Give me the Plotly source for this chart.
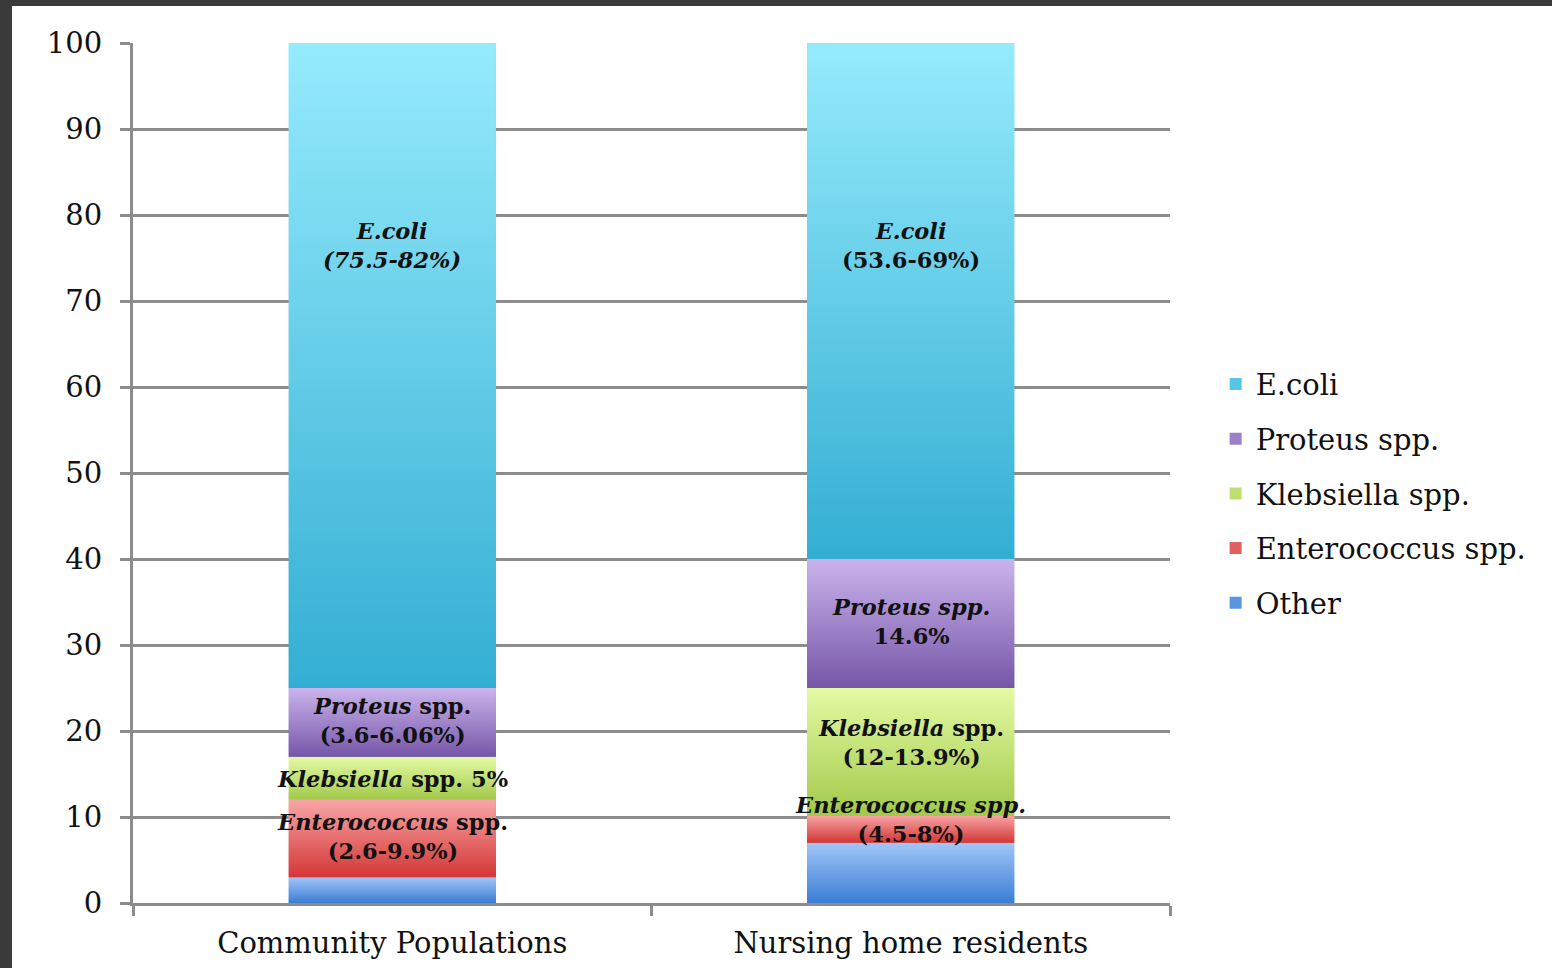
import plotly.graph_objects as go

# ---- data ----
categories = ["Community Populations", "Nursing home residents"]
series = ["Other", "Enterococcus spp.", "Klebsiella spp.", "Proteus spp.", "E.coli"]
values = {
    "Other": [3, 7],
    "Enterococcus spp.": [9, 3.2],
    "Klebsiella spp.": [5, 14.8],
    "Proteus spp.": [8, 15],
    "E.coli": [75, 60],
}
labels = {
    "Other": [None, None],
    "Enterococcus spp.": ["<b><i>Enterococcus</i> spp.</b><br><b>(2.6-9.9%)</b>",
                          "<b><i>Enterococcus spp.</i></b><br><b>(4.5-8%)</b>"],
    "Klebsiella spp.": ["<b><i>Klebsiella</i> spp. 5%</b>",
                        "<b><i>Klebsiella</i> spp.</b><br><b>(12-13.9%)</b>"],
    "Proteus spp.": ["<b><i>Proteus</i> spp.</b><br><b>(3.6-6.06%)</b>",
                     "<b><i>Proteus spp.</i></b><br><b>14.6%</b>"],
    "E.coli": ["<b><i>E.coli</i></b><br><b><i>(75.5-82%)</i></b>",
               "<b><i>E.coli</i></b><br><b>(53.6-69%)</b>"],
}
# label vertical placement (data units)
label_y = {
    "Enterococcus spp.": [7.7, 9.7],
    "Klebsiella spp.": [14.4, 18.7],
    "Proteus spp.": [21.2, 32.7],
    "E.coli": [76.5, 76.5],
}
y_ticks = list(range(0, 101, 10))

# ---- style ----
grad = {
    "Other": ("#3a7dd4", "#a0c6f8"),
    "Enterococcus spp.": ("#d43636", "#f8a6a6"),
    "Klebsiella spp.": ("#a2c94a", "#e4faa4"),
    "Proteus spp.": ("#7656a8", "#cab4ec"),
    "E.coli": ("#33aed3", "#95ebfc"),
}
legend_col = {
    "Other": "#5a95e0",
    "Enterococcus spp.": "#e06060",
    "Klebsiella spp.": "#bfe070",
    "Proteus spp.": "#9a80c8",
    "E.coli": "#55c6e6",
}
W, H = 1552, 968
ML, MR, MT, MB = 133, 382, 43, 65
PW, PH = W - ML - MR, H - MT - MB
BAR_W = 0.4
FONT = "DejaVu Serif"
GRID = "#8c8c8c"

fig = go.Figure()

# bars (legend + base marks)
for k, s in enumerate(series):
    fig.add_trace(go.Bar(
        x=categories, y=values[s], name=s, legendgroup=s,
        legendrank=1000 - k,
        marker=dict(color=legend_col[s], line=dict(width=0)),
        width=BAR_W, hoverinfo="skip",
    ))

# gradient overlays on a numeric twin axis
for s in series:
    lo, hi = grad[s]
    for i, c in enumerate(categories):
        base = sum(values[t][i] for t in series[:series.index(s)])
        top = base + values[s][i]
        fig.add_trace(go.Scatter(
            x=[i - BAR_W / 2, i + BAR_W / 2, i + BAR_W / 2, i - BAR_W / 2, i - BAR_W / 2],
            y=[base, base, top, top, base],
            xaxis="x2", mode="lines", line=dict(width=0),
            fill="toself",
            fillgradient=dict(type="vertical", colorscale=[[0, lo], [1, hi]]),
            showlegend=False, hoverinfo="skip",
        ))

# labels
for s in series:
    for i, c in enumerate(categories):
        t = labels[s][i]
        if t:
            fig.add_annotation(x=i, y=label_y[s][i], xref="x2", yref="y", text=t,
                               showarrow=False, font=dict(family=FONT, size=22.5, color="#111111"),
                               align="center")

# dark frame (decoration)
def px_x(p):
    return (p - ML) / PW

def px_y(p):
    return (H - MB - p) / PH

fig.add_shape(type="rect", xref="paper", yref="paper", x0=px_x(0), x1=px_x(W), y0=px_y(6), y1=px_y(0),
              fillcolor="#3a3a3a", line=dict(width=0), layer="above")
fig.add_shape(type="rect", xref="paper", yref="paper", x0=px_x(0), x1=px_x(12), y0=px_y(H), y1=px_y(0),
              fillcolor="#3a3a3a", line=dict(width=0), layer="above")

fig.update_layout(
    width=W, height=H,
    margin=dict(l=ML, r=MR, t=MT, b=MB, pad=0, autoexpand=False),
    barmode="stack", bargap=0.6,
    paper_bgcolor="white", plot_bgcolor="white",
    font=dict(family=FONT, size=29, color="#111111"),
    xaxis=dict(type="category", showgrid=False, showline=True, linecolor=GRID, linewidth=3,
               ticks="outside", tickson="boundaries", ticklen=10, tickwidth=3, tickcolor=GRID,
               tickfont=dict(size=29), range=[-0.5, 1.5], ticklabelstandoff=12,
               automargin=False),
    xaxis2=dict(overlaying="x", range=[-0.5, 1.5], visible=False),
    yaxis=dict(range=[0, 100], tickvals=y_ticks, showgrid=True, gridcolor=GRID, gridwidth=3,
               showline=True, linecolor=GRID, linewidth=3, ticks="outside", ticklen=10,
               tickwidth=3, tickcolor=GRID, zeroline=False, tickfont=dict(size=29),
               ticklabelstandoff=12, automargin=False),
    legend=dict(x=1.044, y=0.476, xanchor="left", yanchor="middle", traceorder="grouped",
                font=dict(size=29), itemsizing="constant", tracegroupgap=14,
                bgcolor="rgba(0,0,0,0)"),
    showlegend=True,
)

fig.write_html("out.html")
